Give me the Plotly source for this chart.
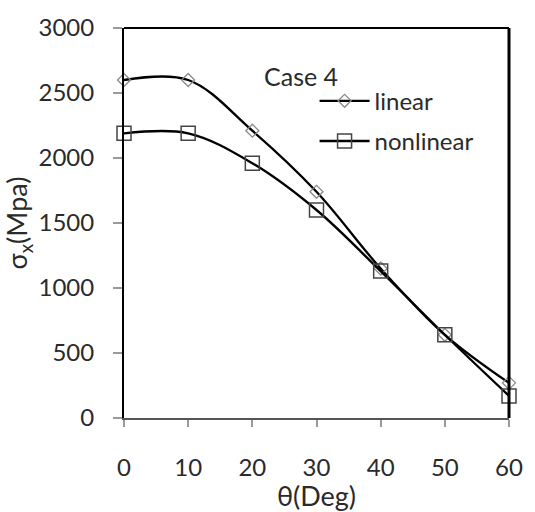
import plotly.graph_objects as go

# Stress sigma_x versus angle theta, Case 4
theta = [0, 10, 20, 30, 40, 50, 60]
sigma_linear = [2600, 2600, 2210, 1740, 1150, 640, 270]
sigma_nonlinear = [2190, 2190, 1960, 1600, 1130, 640, 170]
x_ticks = [0, 10, 20, 30, 40, 50, 60]
y_ticks = [0, 500, 1000, 1500, 2000, 2500, 3000]

FONT = "Lato"

fig = go.Figure()
fig.add_trace(go.Scatter(
    x=theta, y=sigma_linear, name="linear", legendgroup="a",
    mode="lines+markers", cliponaxis=False,
    line=dict(color="black", width=2.3, shape="spline", smoothing=1),
    marker=dict(symbol="diamond-open", size=10, color="#8a8a8a",
                line=dict(width=1.3, color="#8a8a8a")),
))
fig.add_trace(go.Scatter(
    x=theta, y=sigma_nonlinear, name="nonlinear", legendgroup="b",
    mode="lines+markers", cliponaxis=False,
    line=dict(color="black", width=2.3, shape="spline", smoothing=1),
    marker=dict(symbol="square-open", size=14, color="#444444",
                line=dict(width=1.5, color="#444444")),
))

fig.update_layout(
    width=535, height=512,
    margin=dict(l=124, r=25, t=19, b=90),
    paper_bgcolor="white", plot_bgcolor="white",
    font=dict(family=FONT, size=24, color="#2a2a2a"),
    showlegend=True,
    legend=dict(x=0.495, y=0.87, xanchor="left", yanchor="top",
                bgcolor="rgba(0,0,0,0)", font=dict(size=24),
                itemwidth=50, tracegroupgap=6, traceorder="grouped"),
    xaxis=dict(range=[0, 60], tickvals=x_ticks, showgrid=False, zeroline=False,
               showline=True, linecolor="#555555", linewidth=2,
               ticks="outside", ticklen=7, tickcolor="#999999", tickwidth=1.5,
               ticklabelstandoff=20, tickfont=dict(size=24),
               title=dict(text="θ(Deg)", font=dict(size=27), standoff=0)),
    yaxis=dict(range=[0, 3000], tickvals=y_ticks, showgrid=False, zeroline=False,
               showline=True, linecolor="black", linewidth=2,
               ticks="outside", ticklen=9, tickcolor="#999999", tickwidth=1.5,
               ticklabelstandoff=14, tickfont=dict(size=24),
               title=dict(text="σ<sub>x</sub>(Mpa)", font=dict(size=27), standoff=4)),
    annotations=[dict(text="Case 4", x=0.46, y=0.878, xref="paper", yref="paper",
                      xanchor="center", yanchor="middle", showarrow=False,
                      font=dict(size=25))],
    shapes=[
        dict(type="line", xref="paper", yref="paper", x0=0, x1=1, y0=1, y1=1,
             line=dict(color="black", width=2)),
        dict(type="line", xref="paper", yref="paper", x0=1, x1=1, y0=0, y1=1,
             line=dict(color="black", width=3)),
    ],
)

fig.write_html("out.html")
